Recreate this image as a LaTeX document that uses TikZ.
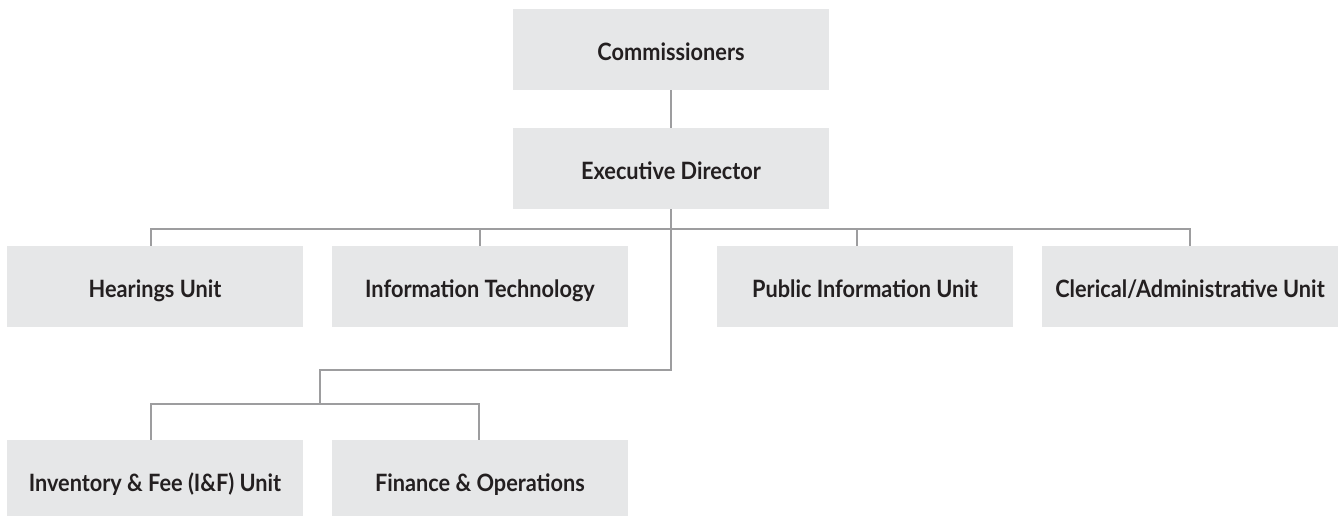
\documentclass[tikz,border=0pt]{standalone}
\usepackage{fontspec}
\setmainfont{Lato}
\definecolor{boxfill}{HTML}{E6E7E8}
\definecolor{linegray}{HTML}{9D9D9F}
\definecolor{txt}{HTML}{231F20}
\newcommand{\narrowtxt}[1]{\scalebox{0.91}[1]{#1}}
\begin{document}
\begin{tikzpicture}[x=0.75pt,y=-0.75pt,
  unitbox/.style={fill=boxfill,draw=none,minimum width=222pt,minimum height=60.75pt,inner sep=0pt,
    font=\fontsize{17.9}{20}\selectfont\bfseries,text=txt,text height=16.2pt,text depth=0pt},
  topbox/.style={unitbox,minimum width=237pt,text height=17pt},
  lowbox/.style={unitbox,minimum height=57pt,text height=19.5pt},
  conn/.style={draw=linegray,line width=1.7pt}]
\useasboundingbox (0,0) rectangle (1339,516);
\node[topbox] (comm) at (671,49.5) {\narrowtxt{Commissioners}};
\node[topbox] (ed) at (671,168.5) {\narrowtxt{Executive Director}};
\node[unitbox] (hear) at (155,286.5) {\narrowtxt{Hearings Unit}};
\node[unitbox] (it) at (480,286.5) {\narrowtxt{Information Technology}};
\node[unitbox] (pub) at (865,286.5) {\narrowtxt{Public Information Unit}};
\node[unitbox] (cler) at (1190,286.5) {\narrowtxt{Clerical/Administrative Unit}};
\node[lowbox] (inv) at (155,478) {\narrowtxt{Inventory \& Fee (I\&F) Unit}};
\node[lowbox] (fin) at (480,478) {\narrowtxt{Finance \& Operations}};
\coordinate (lowbus) at (671,370);
\coordinate (lowsplit) at (320,404);
\draw[conn] (comm.south) -- (ed.north);
\draw[conn] (ed.south) -- (lowbus) -| (lowsplit);
\draw[conn] ([xshift=-3]hear.north) -- ++(0,-17) -| (cler.north);
\draw[conn] (it.north) -- ++(0,-17);
\draw[conn] ([xshift=-6]pub.north) -- ++(0,-17);
\draw[conn] ([xshift=-3]inv.north) |- (lowsplit) -| ([xshift=-1]fin.north);
\end{tikzpicture}
\end{document}
